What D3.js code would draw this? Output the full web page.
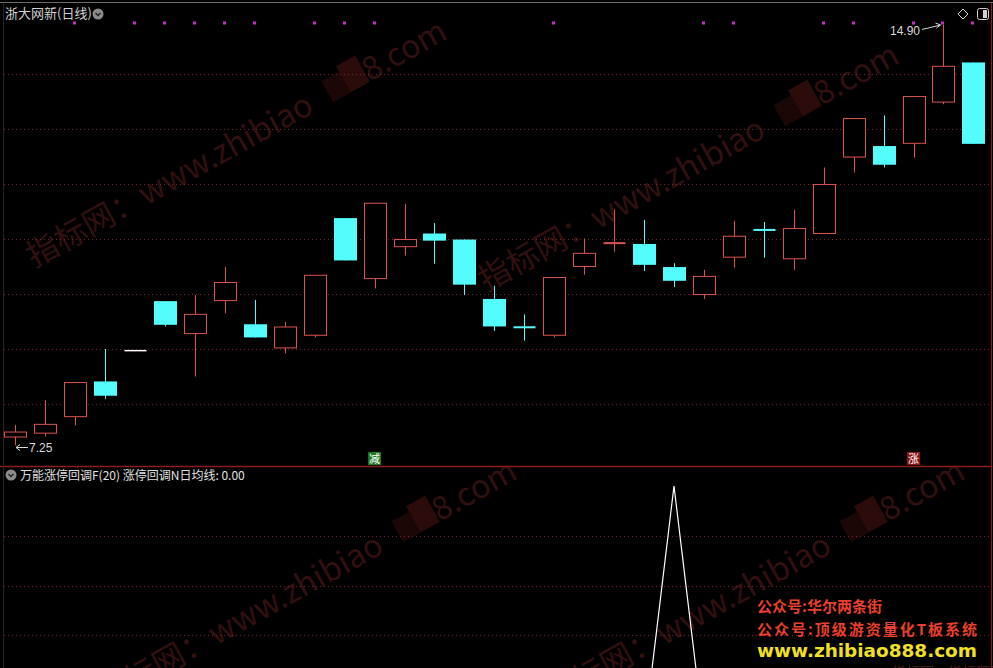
<!DOCTYPE html>
<html><head><meta charset="utf-8">
<script src="https://cdn.jsdelivr.net/npm/d3@7/dist/d3.min.js"></script>
<style>html,body{margin:0;padding:0;background:#000;overflow:hidden}svg{display:block}</style>
</head><body>
<svg id="c" width="993" height="668"></svg>
<script>
// ---- data ----
const opens  = [7.40,7.47,7.77,8.41,8.97,9.87,9.28,9.88,9.45,9.02,9.25,11.38,10.28,10.86,11.10,10.99,9.91,9.40,9.25,10.50,10.92,10.91,10.49,9.99,10.67,11.17,10.64,11.10,12.49,12.69,12.74,13.49,14.21];
const highs  = [7.62,8.07,8.39,9.00,8.97,9.87,9.98,10.49,9.89,9.49,10.34,11.38,11.65,11.64,11.29,10.99,10.15,9.63,10.30,11.01,11.54,11.35,10.56,10.44,11.33,11.31,11.53,12.30,13.19,13.25,13.59,14.90,14.21];
const lows   = [7.25,7.41,7.61,8.09,8.97,9.41,8.50,9.65,9.21,8.92,9.21,10.61,10.10,10.70,10.55,9.98,9.33,9.15,9.21,10.35,10.77,10.42,10.13,9.91,10.48,10.66,10.44,11.10,12.21,12.30,12.48,13.45,12.73];
const closes = [7.49,7.63,8.39,8.15,8.97,9.44,9.63,10.21,9.21,9.40,10.34,10.61,11.65,10.99,10.97,10.17,9.41,9.39,10.30,10.74,10.93,10.53,10.24,10.32,11.05,11.16,11.19,11.99,13.19,12.35,13.59,14.14,12.73];
const topDots = [0,0,1,0,1,1,1,1,1,0,1,1,1,0,0,0,0,0,1,0,0,0,0,1,1,0,0,1,1,0,1,1,1];
const signalLine = [0,0,0,0,0,0,0,0,0,0,0,0,0,0,0,0,0,0,0,0,0,0,1,0,0,0,0,0,0,0,0,0,0];
const marks = [{i:12, t:"减", bg:"#1f7a1f"},{i:30, t:"涨", bg:"#8a1414"}];
const priceTicks = [8,9,10,11,12,13,14];
const subTicks = [0.2,0.4,0.6,0.8];
const titleText = "浙大网新(日线)";
const subTitle = "万能涨停回调F(20) 涨停回调N日均线: 0.00";
const promo = ["公众号:华尔两条街","公众号:顶级游资量化T板系统","www.zhibiao888.com"];

const W=993,H=668;
const svg=d3.select("#c");
const FONT='"Noto Sans CJK SC","Noto Sans",sans-serif';
svg.append("rect").attr("width",W).attr("height",H).attr("fill","#000");

const x=d3.scaleLinear().domain([0,32]).range([15.3,973.4]);
const y=d3.scaleLinear().domain([8,14]).range([404,74]);
const y2=d3.scaleLinear().domain([0,1]).range([735,486]);

// watermarks
function watermark(sx,sy){
  const g=svg.append("g").attr("transform",`translate(${sx},${sy}) rotate(-29)`);
  const col="#321010";
  g.append("text").attr("x",0).attr("y",0).attr("font-family",FONT).attr("font-size",32)
    .attr("fill",col).text("指标网：www.zhibiao");
  const tw=338;
  g.append("rect").attr("x",tw+4).attr("y",-24).attr("width",20).attr("height",24).attr("fill","#1c0707");
  g.append("rect").attr("x",tw+24).attr("y",-30).attr("width",22).attr("height",30).attr("fill","#2c0b0b");
  g.append("text").attr("x",tw+46).attr("y",0).attr("font-family",FONT).attr("font-size",32)
    .attr("fill",col).text("8.com");
}
watermark(34,268);
watermark(486,292);
watermark(104,708);
watermark(552,708);

// grid
const grid=svg.append("g");
grid.selectAll("line.g1").data(priceTicks).join("line")
  .attr("x1",4).attr("x2",990).attr("y1",d=>Math.round(y(d))+0.5).attr("y2",d=>Math.round(y(d))+0.5)
  .attr("stroke","#7a2626").attr("stroke-dasharray","1,3");
grid.selectAll("line.g2").data(subTicks).join("line")
  .attr("x1",4).attr("x2",990).attr("y1",d=>Math.round(y2(d))+0.5).attr("y2",d=>Math.round(y2(d))+0.5)
  .attr("stroke","#7a2626").attr("stroke-dasharray","1,3");

// frame
svg.append("line").attr("x1",0).attr("x2",W).attr("y1",2.5).attr("y2",2.5).attr("stroke","#6a6a6a");
svg.append("line").attr("x1",0).attr("x2",991).attr("y1",466.5).attr("y2",466.5).attr("stroke","#8a1c1c").attr("stroke-width",1.5);
svg.append("line").attr("x1",991.5).attr("x2",991.5).attr("y1",3).attr("y2",H).attr("stroke","#8a1c1c");
svg.append("line").attr("x1",3.5).attr("x2",3.5).attr("y1",3).attr("y2",H).attr("stroke","#262626");

// candles
const RED="#d9534f", CYAN="#54fcfc";
const data=opens.map((o,i)=>({i,o,h:highs[i],l:lows[i],c:closes[i]}));
const cg=svg.append("g");
data.forEach(d=>{
  const cx=Math.round(x(d.i))+0.5;
  const flat=d.h===d.l;
  const up=d.c>d.o;
  const col=flat?"#ffffff":(up?RED:CYAN);
  if(!flat){
    cg.append("line").attr("x1",cx).attr("x2",cx).attr("y1",y(d.h)).attr("y2",y(d.l)).attr("stroke",col);
  }
  const top=y(Math.max(d.o,d.c)), bot=y(Math.min(d.o,d.c));
  if(flat || Math.abs(d.c-d.o)<0.02){
    cg.append("line").attr("x1",cx-11).attr("x2",cx+11).attr("y1",(top+bot)/2).attr("y2",(top+bot)/2)
      .attr("stroke",col).attr("stroke-width",flat?1.5:2);
  } else if(up){
    cg.append("rect").attr("x",cx-11).attr("y",top).attr("width",22).attr("height",bot-top)
      .attr("fill","#000").attr("stroke",col);
  } else {
    cg.append("rect").attr("x",cx-11.5).attr("y",top).attr("width",23).attr("height",bot-top).attr("fill",col);
  }
});

// top dots
svg.selectAll("rect.dot").data(topDots.map((v,i)=>({v,i})).filter(d=>d.v)).join("rect")
  .attr("x",d=>Math.round(x(d.i))-2).attr("y",21.5).attr("width",3).attr("height",3).attr("fill","#c030c0");

// marks
marks.forEach(m=>{
  const cx=x(m.i);
  svg.append("rect").attr("x",cx-6.5).attr("y",452).attr("width",13).attr("height",13).attr("fill",m.bg);
  svg.append("text").attr("x",cx).attr("y",463).attr("text-anchor","middle").attr("font-family",FONT)
    .attr("font-size",11).attr("fill","#fff").text(m.t);
});

// price annotations
svg.append("text").attr("x",29).attr("y",452).attr("font-family","Liberation Sans,Arial,sans-serif").attr("font-size",12).attr("fill","#d8d8d8").text(d3.min(lows).toFixed(2));
svg.append("path").attr("d","M16,447.5 H28 M16,447.5 l4,-3 M16,447.5 l4,3").attr("stroke","#d8d8d8").attr("fill","none");
const hiIdx=highs.indexOf(d3.max(highs));
svg.append("text").attr("x",920).attr("y",35).attr("text-anchor","end").attr("font-family","Liberation Sans,Arial,sans-serif").attr("font-size",12).attr("fill","#d8d8d8").text(d3.max(highs).toFixed(2));
svg.append("path").attr("d",`M922,29.5 L${x(hiIdx)-3},25 M${x(hiIdx)-3},25 l-5,-2 M${x(hiIdx)-3},25 l-4,3`).attr("stroke","#d8d8d8").attr("fill","none");

// title
svg.append("text").attr("x",5).attr("y",18).attr("font-family",FONT).attr("font-size",13).attr("fill","#d0d0d0").text(titleText);
function chevIcon(cx,cy){
  svg.append("circle").attr("cx",cx).attr("cy",cy).attr("r",5.5).attr("fill","#8a8a8a");
  svg.append("path").attr("d",`M${cx-2.5},${cy-1} L${cx},${cy+1.5} L${cx+2.5},${cy-1}`).attr("stroke","#222").attr("stroke-width",1.4).attr("fill","none");
}
chevIcon(98,14);
chevIcon(11,475);
// top-right icons
svg.append("path").attr("d","M963,9 L968,14 L963,19 L958,14 Z").attr("fill","none").attr("stroke","#cfcfcf");
svg.append("rect").attr("x",977.5).attr("y",8.5).attr("width",11).attr("height",11).attr("rx",2).attr("fill","none").attr("stroke","#cfcfcf");
svg.append("rect").attr("x",983).attr("y",10).attr("width",4).attr("height",8).attr("fill","#cfcfcf");

// subpanel title
svg.append("text").attr("x",20).attr("y",480).attr("font-family",FONT).attr("font-size",12).attr("fill","#e0e0e0").text(subTitle);

// signal line
svg.append("path").datum(signalLine)
  .attr("d",d3.line().x((d,i)=>x(i)).y(d=>y2(d)))
  .attr("fill","none").attr("stroke","#ffffff").attr("stroke-width",1.2);

// promo texts
svg.append("text").attr("x",757).attr("y",612).attr("font-family",FONT).attr("font-weight","bold").attr("font-size",15).attr("fill","#e8402a").text(promo[0]);
svg.append("text").attr("x",757).attr("y",635).attr("font-family",FONT).attr("font-weight","bold").attr("font-size",15).attr("fill","#e8402a").attr("textLength",220).text(promo[1]);
svg.append("text").attr("x",757).attr("y",657).attr("font-family","DejaVu Sans,sans-serif").attr("font-weight","bold").attr("font-size",18).attr("fill","#f0e020").attr("textLength",220).attr("lengthAdjust","spacingAndGlyphs").text(promo[2]);
svg.append("text").attr("x",892).attr("y",677).attr("font-family",FONT).attr("font-size",14).attr("fill","#4a1a1a").text("指标网：指标源码");
</script>
</body></html>
